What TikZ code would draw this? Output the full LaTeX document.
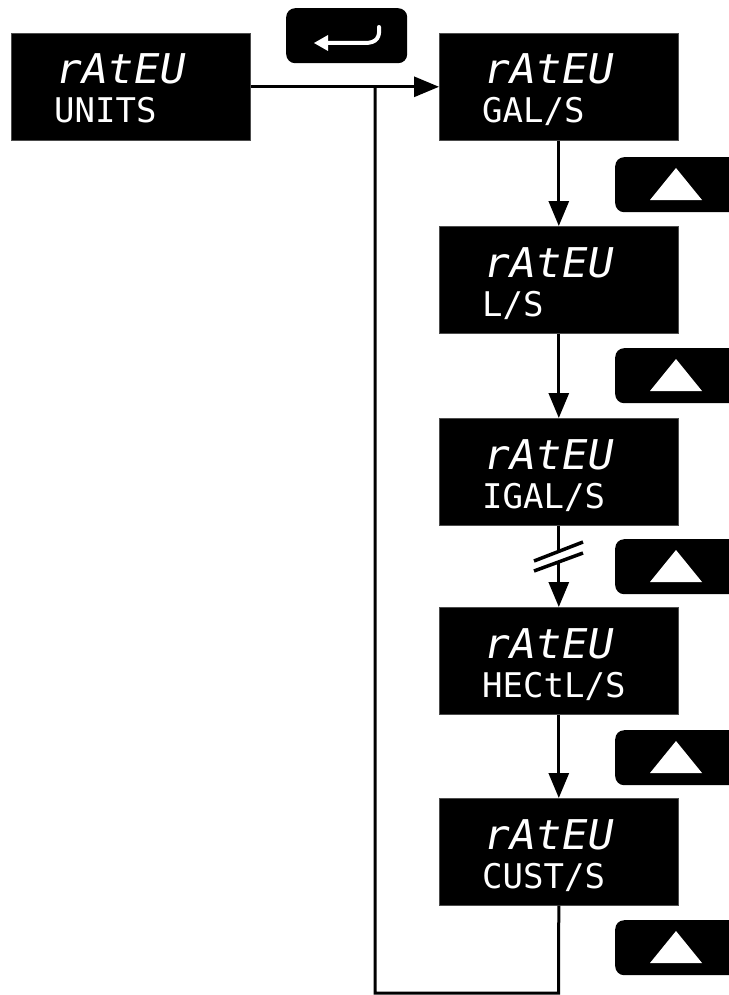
\documentclass[tikz,border=0pt]{standalone}
\usepackage{fontspec}
\usetikzlibrary{arrows.meta}
\newfontfamily\segtop[FakeStretch=1.06,FakeSlant=0.18]{DejaVu Sans Mono}
\newfontfamily\segbot{DejaVu Sans Mono}
\begin{document}
\begin{tikzpicture}[x=1pt,y=-1pt,
  disp/.style={fill=black,draw=black!70,line width=0.6pt,minimum width=239pt,minimum height=107pt,anchor=north west,inner sep=0pt},
  topline/.style={text=white,anchor=base west,inner sep=0pt,font=\segtop\fontsize{41}{41}\selectfont},
  botline/.style={text=white,anchor=base west,inner sep=0pt,font=\segbot\fontsize{34}{34}\selectfont},
  keybox/.style={fill=black,rounded corners=9pt},
  conn/.style={line width=3pt,-{Triangle[length=25pt,width=20pt]}},
  plain/.style={line width=3pt}]
\useasboundingbox (0,0) rectangle (728,995);

% display boxes
\node[disp] (b1) at (11,33) {};
\node[disp] (b2) at (439,33) {};
\node[disp] (b3) at (439,226) {};
\node[disp] (b4) at (439,418) {};
\node[disp] (b5) at (439,607) {};
\node[disp] (b6) at (439,798) {};

\foreach \b/\t in {b1/{UNITS},b2/{GAL/S},b3/{L/S},b4/{IGAL/S},b5/{HECtL/S},b6/{CUST/S}}{
  \node[topline] (\b top) at ([shift={(42,51)}]\b.north west) {rAtEU};
  \node[botline] (\b bot) at ([shift={(43,90)}]\b.north west) {\t};
}

% enter key
\node[keybox,minimum width=121pt,minimum height=55pt,anchor=north west,inner sep=0pt] (enter) at (286,8) {};
\draw[white,line width=4pt,line cap=round] (326,43) -- (365,43) .. controls (377,43) and (380,37) .. (379,27);
\fill[white] (314,43) -- (328,35) -- (328,51) -- cycle;

% up keys
\foreach \i/\y in {1/157,2/348,3/539,4/730,5/920}{
  \node[keybox,minimum width=130pt,minimum height=55pt,anchor=north west,inner sep=0pt] (up\i) at (615,\y) {};
  \fill[white] ([shift={(35,43)}]up\i.north west) -- ([shift={(87,43)}]up\i.north west) -- ([shift={(61,11)}]up\i.north west) -- cycle;
}

% connectors
\coordinate (j) at (b1.east -| 375,0);
\draw[conn] (b1.east) -- (b1.east -| b2.west);
\draw[conn] (b2.south) -- (b3.north);
\draw[conn] (b3.south) -- (b4.north);
\draw[conn] (b4.south) -- (b5.north);
\draw[conn] (b5.south) -- (b6.north);
\coordinate (bot) at (558.5,993);
\draw[plain] (b6.south) -- (bot) -| (j);

% break mark
\fill[white] (534,561) -- (583,542) -- (583,553) -- (534,571) -- cycle;
\draw[line width=3.5pt] (534,561) -- (583,542);
\draw[line width=3.5pt] (534,571) -- (583,553);
\end{tikzpicture}
\end{document}
